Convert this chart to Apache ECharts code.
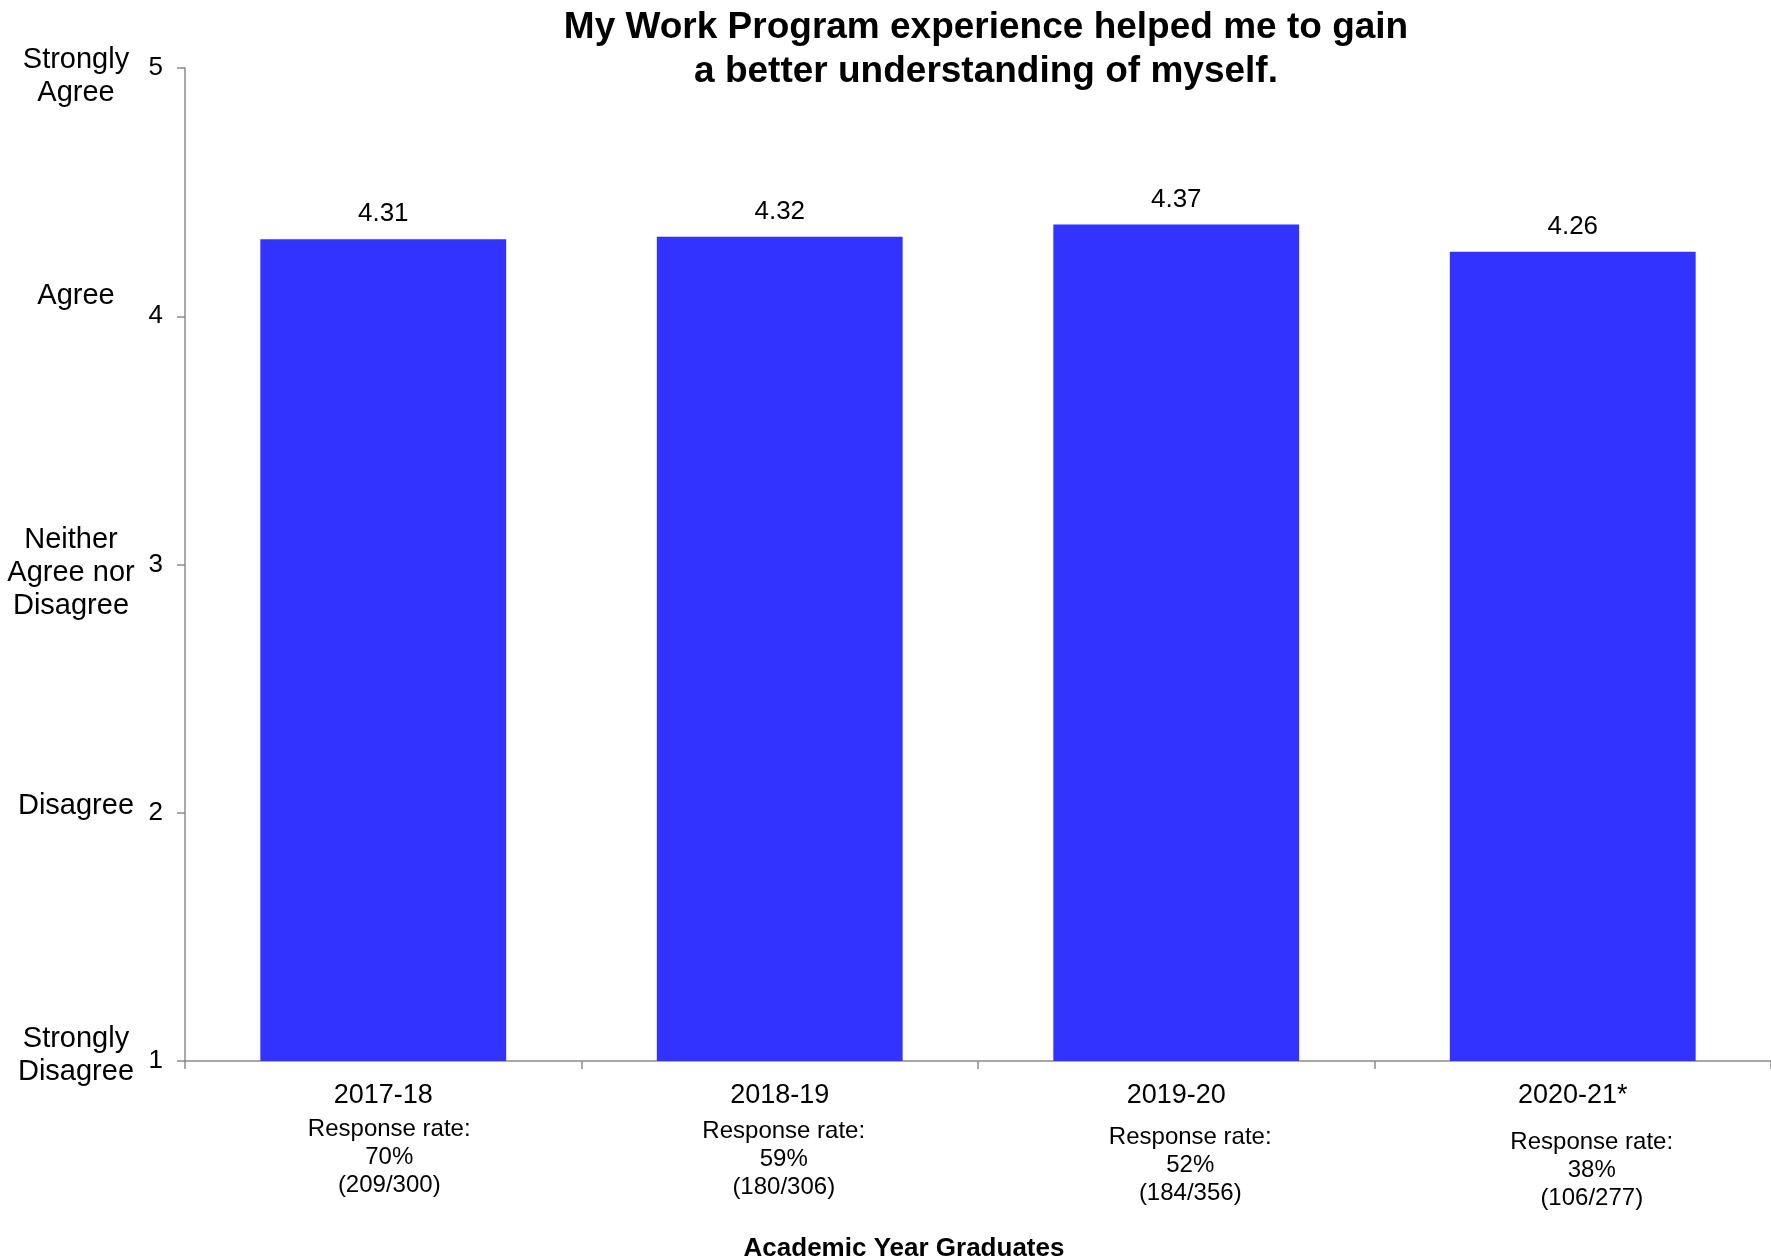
<!DOCTYPE html>
<html>
<head>
<meta charset="utf-8">
<script src="https://cdn.jsdelivr.net/npm/echarts@6/dist/echarts.min.js"></script>
<style>
html,body{margin:0;padding:0;background:#fff;}
#chart{width:1771px;height:1259px;}
</style>
</head>
<body>
<div id="chart"></div>
<script>
// ---- data ----
var years = ['2017-18', '2018-19', '2019-20', '2020-21*'];
var meanScores = [4.31, 4.32, 4.37, 4.26];
var responseRates = ['70%', '59%', '52%', '38%'];
var responseCounts = ['(209/300)', '(180/306)', '(184/356)', '(106/277)'];
var scaleTicks = [1, 2, 3, 4, 5];
var scaleLabels = ['Strongly\nDisagree', 'Disagree', 'Neither\nAgree nor\nDisagree', 'Agree', 'Strongly\nAgree'];
var titleText = 'My Work Program experience helped me to gain\na better understanding of myself.';
var xAxisTitle = 'Academic Year Graduates';

// ---- layout tweaks (styles only) ----
var FONT = '"Liberation Sans", Arial, sans-serif';
var respGap = [4, 6, 12, 17];      // extra vertical space between year and response text
var respShift = [6, 4, 14, 19];    // horizontal shift of response text
var scaleShift = [-6, -6.5, 8, -20, 8]; // vertical shift of scale word labels
var scaleXShift = [0, 0, -5, 0, 0];     // horizontal shift of scale word labels

var xRich = {
  y: {fontSize: 27, lineHeight: 30, color: '#000', fontFamily: FONT}
};
years.forEach(function (_, i) {
  xRich['s' + i] = {fontSize: 1, lineHeight: respGap[i], color: 'rgba(0,0,0,0)'};
  xRich['r' + i] = {fontSize: 24, lineHeight: 28, color: '#000', fontFamily: FONT,
    padding: [0, 0, 0, 2 * respShift[i]]};
});

var yRich = {};
scaleShift.forEach(function (d, i) {
  yRich['p' + i] = {fontSize: 1, lineHeight: Math.abs(2 * d), color: 'rgba(0,0,0,0)'};
  var dx = scaleXShift[i];
  yRich['w' + i] = {fontSize: 29, lineHeight: 33, color: '#000', fontFamily: FONT, align: 'center',
    padding: [0, dx < 0 ? -2 * dx : 0, 0, dx > 0 ? 2 * dx : 0]};
});

var chart = echarts.init(document.getElementById('chart'));
chart.setOption({
  backgroundColor: '#fff',
  animation: false,
  title: [{
    text: titleText,
    left: 981,
    top: 1,
    textAlign: 'center',
    textStyle: {fontSize: 37, fontWeight: 'bold', lineHeight: 44, color: '#000', fontFamily: FONT}
  }, {
    text: xAxisTitle,
    left: 899,
    top: 1229,
    textAlign: 'center',
    textStyle: {fontSize: 26, fontWeight: 'bold', lineHeight: 30, color: '#000', fontFamily: FONT}
  }],
  grid: {left: 185, right: 0, top: 68, bottom: 198, containLabel: false},
  xAxis: {
    type: 'category',
    data: years,
    axisLine: {show: true, lineStyle: {color: '#8c8c8c', width: 1.5}},
    axisTick: {show: true, alignWithLabel: false, length: 8, lineStyle: {color: '#8c8c8c', width: 1.5}},
    axisLabel: {
      interval: 0,
      margin: 20,
      formatter: function (value, index) {
        return '{y|' + value + '}\n{s' + index + '| }\n{r' + index + '|Response rate:}\n{r' + index + '|' +
          responseRates[index] + '}\n{r' + index + '|' + responseCounts[index] + '}';
      },
      rich: xRich
    },
    splitLine: {show: false}
  },
  yAxis: [{
    type: 'value',
    min: scaleTicks[0],
    max: scaleTicks[scaleTicks.length - 1],
    interval: 1,
    position: 'left',
    axisLine: {show: true, lineStyle: {color: '#8c8c8c', width: 1.5}},
    axisTick: {show: true, inside: false, length: 8, lineStyle: {color: '#8c8c8c', width: 1.5}},
    axisLabel: {margin: 22, fontSize: 26, color: '#000', fontFamily: FONT},
    splitLine: {show: false}
  }, {
    type: 'value',
    min: scaleTicks[0],
    max: scaleTicks[scaleTicks.length - 1],
    interval: 1,
    position: 'left',
    axisLine: {show: false},
    axisTick: {show: false},
    splitLine: {show: false},
    axisLabel: {
      margin: 109,
      align: 'center',
      formatter: function (value) {
        var i = scaleTicks.indexOf(value);
        if (i < 0) return '';
        var lines = scaleLabels[i].split('\n').map(function (l) { return '{w' + i + '|' + l + '}'; });
        var d = scaleShift[i];
        if (d > 0) lines.unshift('{p' + i + '| }');
        else if (d < 0) lines.push('{p' + i + '| }');
        return lines.join('\n');
      },
      rich: yRich
    }
  }],
  series: [{
    type: 'bar',
    data: meanScores,
    yAxisIndex: 0,
    barCategoryGap: '38%',
    itemStyle: {color: '#3333ff'},
    label: {
      show: true,
      position: 'top',
      distance: 12,
      fontSize: 26,
      color: '#000',
      fontFamily: FONT,
      formatter: function (p) { return p.value.toFixed(2); }
    }
  }]
});
</script>
</body>
</html>
